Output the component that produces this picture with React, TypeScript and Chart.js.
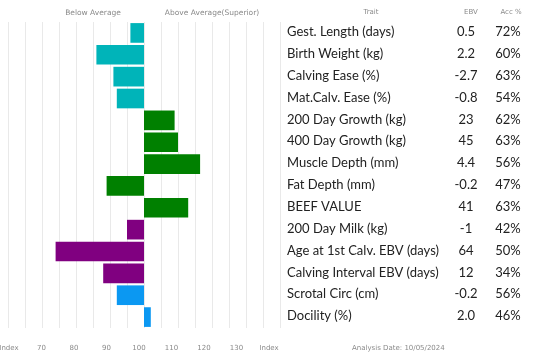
import React, { useEffect, useRef } from "react";
import { Chart, registerables } from "chart.js";

Chart.register(...registerables);

const traits = [
  "Gest. Length (days)",
  "Birth Weight (kg)",
  "Calving Ease (%)",
  "Mat.Calv. Ease (%)",
  "200 Day Growth (kg)",
  "400 Day Growth (kg)",
  "Muscle Depth (mm)",
  "Fat Depth (mm)",
  "BEEF VALUE",
  "200 Day Milk (kg)",
  "Age at 1st Calv. EBV (days)",
  "Calving Interval EBV (days)",
  "Scrotal Circ (cm)",
  "Docility (%)",
];
const indexValues = [96, 86, 91, 92, 109, 110, 116.5, 89, 113, 95, 74, 88, 92, 102];
const ebvValues = ["0.5", "2.2", "-2.7", "-0.8", "23", "45", "4.4", "-0.2", "41", "-1", "64", "12", "-0.2", "2.0"];
const accValues = ["72%", "60%", "63%", "54%", "62%", "63%", "56%", "47%", "63%", "42%", "50%", "34%", "56%", "46%"];
const barColors = [
  "#00b4b9", "#00b4b9", "#00b4b9", "#00b4b9",
  "#008000", "#008000", "#008000", "#008000", "#008000",
  "#800080", "#800080", "#800080",
  "#0b98f2", "#0b98f2",
];
const bottomLabels = ["Index", "70", "80", "90", "100", "110", "120", "130", "Index"];
const AVERAGE = 100;

const tablePlugin = {
  id: "tablePlugin",
  afterDraw(chart: any) {
    const ctx = chart.ctx;
    const y = chart.scales.y;
    ctx.save();
    ctx.fillStyle = "#8a8a8a";
    ctx.font = "7.5px 'DejaVu Sans'";
    ctx.textBaseline = "middle";
    ctx.textAlign = "center";
    ctx.fillText("Below Average", 93, 13);
    ctx.fillText("Above Average(Superior)", 212, 13);
    ctx.font = "7px 'DejaVu Sans'";
    ctx.fillText("Trait", 371, 12);
    ctx.fillText("EBV", 471, 12);
    ctx.fillText("Acc %", 511, 12);
    ctx.textAlign = "left";
    ctx.fillText("Analysis Date: 10/05/2024", 352, 348);

    ctx.fillStyle = "#222222";
    ctx.font = "13px Lato";
    traits.forEach((t, i) => {
      const py = y.getPixelForValue(i) - 1;
      ctx.textAlign = "left";
      ctx.fillText(t, 287, py);
      ctx.textAlign = "center";
      ctx.fillText(ebvValues[i], 466, py);
      ctx.fillText(accValues[i], 508, py);
    });
    ctx.restore();
  },
};

export default function App() {
  const ref = useRef<HTMLCanvasElement | null>(null);
  useEffect(() => {
    if (!ref.current) return;
    const chart = new Chart(ref.current, {
      type: "bar",
      data: {
        labels: traits,
        datasets: [
          {
            data: indexValues.map((v) => [AVERAGE, v]) as any,
            backgroundColor: barColors,
            borderWidth: 0,
            barPercentage: 0.9,
            categoryPercentage: 1,
          },
        ],
      },
      options: {
        indexAxis: "y",
        animation: false,
        responsive: false,
        layout: { padding: { left: 8, right: 270, top: 22, bottom: 10 } },
        plugins: { legend: { display: false }, tooltip: { enabled: false }, title: { display: false } },
        scales: {
          y: { display: false },
          x: {
            type: "linear",
            position: "bottom",
            min: 60,
            max: 140,
            ticks: { display: false, stepSize: 5 },
            grid: { color: "#e9e9e9", drawTicks: false, lineWidth: 1 },
            border: { display: false },
            afterFit: (s: any) => { s.height = 0; s.paddingLeft = 0; s.paddingRight = 0; },
          },
          x2: {
            type: "linear",
            position: "bottom",
            min: -0.031,
            max: 8.338,
            grid: { display: false, drawTicks: false },
            border: { display: false },
            ticks: {
              color: "#8a8a8a",
              font: { family: "'DejaVu Sans'", size: 7 },
              padding: 16,
              callback: (v: any) => bottomLabels[Math.round(v)] ?? "",
            },
            afterBuildTicks: (s: any) => {
              s.ticks = bottomLabels.map((_, i) => ({ value: i }));
            },
            afterFit: (s: any) => { s.height = 24; s.paddingLeft = 0; s.paddingRight = 0; },
          },
        },
      },
      plugins: [tablePlugin],
    });
    return () => chart.destroy();
  }, []);
  return (
    <div style={{ position: "absolute", left: 0, top: 0, width: 550, height: 362, background: "#fff" }}>
      <canvas ref={ref} width={550} height={362} style={{ display: "block" }} />
    </div>
  );
}
